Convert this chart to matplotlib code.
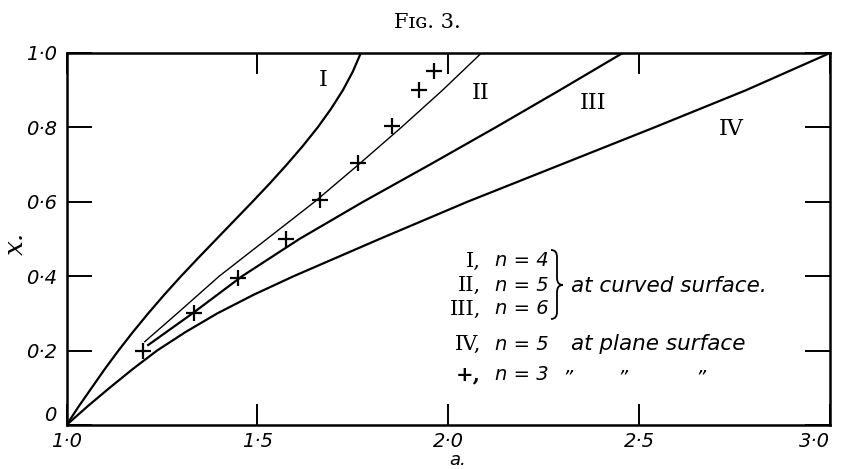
import matplotlib
matplotlib.use('Agg')
import matplotlib.pyplot as plt
from matplotlib.path import Path
from matplotlib.patches import PathPatch

# ---- data ----
curve_I_x = [0.0, 0.05, 0.1, 0.15, 0.2, 0.25, 0.3, 0.35, 0.4, 0.45, 0.5,
             0.55, 0.6, 0.65, 0.7, 0.75, 0.8, 0.85, 0.9, 0.95, 1.0]
curve_I_a = [1.0, 1.032, 1.066, 1.100, 1.136, 1.174, 1.214, 1.256, 1.300,
             1.346, 1.393, 1.440, 1.487, 1.533, 1.577, 1.619, 1.658, 1.693,
             1.724, 1.750, 1.771]

curve_II_x = [0.224, 0.3, 0.4, 0.5, 0.6, 0.7, 0.8, 0.9, 1.0]
curve_II_a = [1.205, 1.29, 1.40, 1.525, 1.65, 1.765, 1.877, 1.985, 2.087]

curve_III_x = [0.215, 0.3, 0.4, 0.5, 0.6, 0.7, 0.8, 0.9, 1.0]
curve_III_a = [1.214, 1.33, 1.46, 1.61, 1.777, 1.952, 2.124, 2.292, 2.457]

curve_IV_x = [0.0, 0.05, 0.1, 0.15, 0.2, 0.25, 0.3, 0.35, 0.4, 0.5, 0.6,
              0.7, 0.8, 0.9, 1.0]
curve_IV_a = [1.0, 1.055, 1.113, 1.173, 1.237, 1.312, 1.395, 1.49, 1.595,
              1.82, 2.05, 2.295, 2.54, 2.78, 3.0]

plus_a = [1.20, 1.335, 1.45, 1.575, 1.664, 1.764, 1.853, 1.924, 1.963]
plus_x = [0.20, 0.30, 0.395, 0.50, 0.605, 0.703, 0.804, 0.90, 0.952]

x_ticks = [1.0, 1.5, 2.0, 2.5, 3.0]
x_tick_labels = ['1·0', '1·5', '2·0', '2·5', '3·0']
y_ticks = [0.0, 0.2, 0.4, 0.6, 0.8, 1.0]
y_tick_labels = ['0', '0·2', '0·4', '0·6', '0·8', '1·0']

curve_names = ['I', 'II', 'III', 'IV']
curve_label_pos_a = [1.672, 2.085, 2.38, 2.741]
curve_label_pos_x = [0.927, 0.892, 0.865, 0.797]

legend_numerals = ['I,', 'II,', 'III,', 'IV,', '+,']
legend_n = ['n = 4', 'n = 5', 'n = 6', 'n = 5', 'n = 3']
legend_curved = 'at curved surface.'
legend_plane = 'at plane surface'
ditto = '”'

# ---- figure ----
W, H = 841, 469
fig = plt.figure(figsize=(W / 100, H / 100), dpi=100)
L, R, T, B = 66.5, 830, 53, 425
ax = fig.add_axes([L / W, 1 - B / H, (R - L) / W, (B - T) / H])

def px2data(px, py):
    return 1 + (px - L) / (R - L) * 2.0, (B - py) / (B - T)

k = 'black'
ax.plot(curve_I_a, curve_I_x, color=k, lw=1.6)
ax.plot(curve_II_a, curve_II_x, color=k, lw=1.0)
ax.plot(curve_III_a, curve_III_x, color=k, lw=1.6)
ax.plot(curve_IV_a, curve_IV_x, color=k, lw=1.6)
ax.plot(plus_a, plus_x, linestyle='none', marker='+', markersize=11.5,
        markeredgewidth=1.6, color=k)

ax.set_xlim(1.0, 3.0)
ax.set_ylim(0.0, 1.0)
for s in ax.spines.values():
    s.set_linewidth(1.8)

ax.set_xticks(x_ticks)
ax.set_xticklabels(x_tick_labels)
ax.set_yticks(y_ticks)
ax.set_yticklabels(y_tick_labels)
ax.tick_params(axis='x', direction='in', top=True, length=15, width=1.4,
               pad=5, labelsize=14)
ax.tick_params(axis='y', direction='in', right=True, length=18, width=1.4,
               pad=7, labelsize=14)
for lab in ax.get_xticklabels() + ax.get_yticklabels():
    lab.set_fontstyle('italic')
    lab.set_family('DejaVu Sans')
xl = ax.get_xticklabels()
xl[-1].set_horizontalalignment('right')
ax.get_yticklabels()[0].set_verticalalignment('bottom')

ax.set_xlabel('a.', fontsize=13, fontstyle='italic', family='DejaVu Sans',
              va='bottom')
ax.xaxis.set_label_coords((458 - L) / (R - L), (B - 468.5) / (B - T))
ax.set_ylabel('x.', fontsize=19, fontstyle='italic', family='DejaVu Serif')
ax.yaxis.set_label_coords(-0.050, (B - 243) / (B - T))

fig.text(427 / W, 1 - 22 / H, 'Fɪɢ. 3.', ha='center', va='center',
         fontsize=15, family='DejaVu Serif')

for name, a, xv in zip(curve_names, curve_label_pos_a, curve_label_pos_x):
    ax.text(a, xv, name, ha='center', va='center', fontsize=16,
            family='DejaVu Serif')

# legend block
rows_py = [261, 285.5, 309, 344, 374]
for num, ntxt, py in zip(legend_numerals, legend_n, rows_py):
    a0, xv = px2data(481, py)
    ax.text(a0, xv, num, ha='right', va='center', fontsize=15,
            family='DejaVu Serif', fontweight='bold' if num == '+,' else 'normal')
    a1, _ = px2data(495, py)
    ax.text(a1, xv, ntxt, ha='left', va='center', fontsize=14,
            fontstyle='italic', family='DejaVu Sans')

a2, xv2 = px2data(571, 285.5)
ax.text(a2, xv2, legend_curved, ha='left', va='center', fontsize=15.5,
        fontstyle='italic', family='DejaVu Sans')
a3, xv3 = px2data(571, 344)
ax.text(a3, xv3, legend_plane, ha='left', va='center', fontsize=15.5,
        fontstyle='italic', family='DejaVu Sans')
for pxd in [567, 622, 700]:
    ad, xd = px2data(pxd, 378)
    ax.text(ad, xd, ditto, ha='center', va='center', fontsize=14,
            fontstyle='italic', family='DejaVu Sans')

# brace
def P(px, py):
    return px2data(px, py)
x0, xm = 551, 563
yt, ymid, yb = 250, 285, 319
codes = [Path.MOVETO, Path.CURVE3, Path.CURVE3, Path.LINETO,
         Path.LINETO, Path.CURVE3, Path.CURVE3,
         Path.MOVETO, Path.CURVE3, Path.CURVE3,
         Path.LINETO, Path.CURVE3, Path.CURVE3]
verts = [P(x0, yt), P(x0 + 6, yt), P(x0 + 6, yt + 7),
         P(x0 + 6, ymid - 7), P(x0 + 6, ymid - 7), P(x0 + 6, ymid), P(xm, ymid),
         P(xm, ymid), P(x0 + 6, ymid), P(x0 + 6, ymid + 7),
         P(x0 + 6, yb - 7), P(x0 + 6, yb), P(x0, yb)]
ax.add_patch(PathPatch(Path(verts, codes), fill=False, lw=1.3, color=k,
                       clip_on=False))

fig.savefig('out.png', dpi=100)
